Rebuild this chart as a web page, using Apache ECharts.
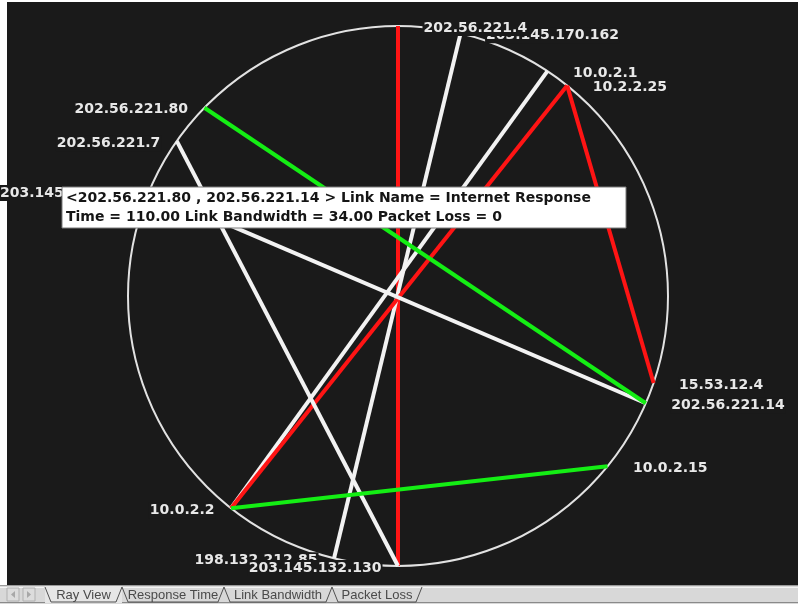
<!DOCTYPE html>
<html>
<head>
<meta charset="utf-8">
<script src="https://cdn.jsdelivr.net/npm/echarts@6/dist/echarts.min.js"></script>
<style>
html,body{margin:0;padding:0;background:#ffffff;}
#chart{width:798px;height:604px;}
</style>
</head>
<body>
<div id="chart"></div>
<script>
// Node names and their angular position on the ring (degrees, clockwise from top)
const nodeNames = ['203.145.170.162','202.56.221.4','10.0.2.1','10.2.2.25','15.53.12.4','202.56.221.14','10.0.2.15','198.132.212.85','203.145.132.130','10.0.2.2','203.145.132.132','202.56.221.7','202.56.221.80'];
const nodeAngles = [13.4, 0, 33.6, 38.8, 108.8, 113.4, 129.1, 193.7, 180, 218.2, 292.9, 305, 314.2];

// Links between nodes and their status
const linkSources = ['202.56.221.4','203.145.170.162','10.0.2.1','10.2.2.25','10.2.2.25','203.145.132.132','202.56.221.7','202.56.221.80','10.0.2.2'];
const linkTargets = ['203.145.132.130','198.132.212.85','10.0.2.2','10.0.2.2','15.53.12.4','202.56.221.14','203.145.132.130','202.56.221.14','10.0.2.15'];
const linkStatus  = ['bad','normal','normal','bad','bad','normal','normal','good','good'];

// Highlighted link info box
const infoLink = ['202.56.221.80','202.56.221.14'];
const infoName = 'Internet Response';
const infoValues = [110.00, 34.00, 0]; // Time, Link Bandwidth, Packet Loss

// Tabs
const tabNames = ['Ray View','Response Time','Link Bandwidth','Packet Loss'];

const statusColor = {bad:'#ff1414', normal:'#f2f2f2', good:'#14ee14'};

const nodes = nodeNames.map((n, i) => {
  const a = nodeAngles[i];
  const leftSide = a >= 180;
  return {
    name: n,
    value: [1, a],
    label: {
      position: leftSide ? 'left' : 'right',
      distance: leftSide ? 15 : 24
    }
  };
});

const links = linkSources.map((s, i) => ({
  source: s, target: linkTargets[i],
  lineStyle: {color: statusColor[linkStatus[i]], width: 4, opacity: 1}
}));

const infoText = '<' + infoLink[0] + ' , ' + infoLink[1] + ' > Link Name = ' + infoName + '\n' +
  'Time = ' + infoValues[0].toFixed(2) + ' Link Bandwidth = ' + infoValues[1].toFixed(2) + ' Packet Loss = ' + infoValues[2];

// Tab bar geometry
const tabX = [45, 122, 224, 332, 422];
const tabChildren = [];
tabChildren.push({type:'rect', shape:{x:0,y:585,width:798,height:19}, style:{fill:'#d8d8d8'}});
tabChildren.push({type:'line', shape:{x1:0,y1:585.5,x2:798,y2:585.5}, style:{stroke:'#9a9a9a',lineWidth:1}});
tabChildren.push({type:'line', shape:{x1:0,y1:587.5,x2:798,y2:587.5}, style:{stroke:'#f4f4f4',lineWidth:1}});
tabChildren.push({type:'line', shape:{x1:0,y1:602.5,x2:798,y2:602.5}, style:{stroke:'#8a8a8a',lineWidth:1}});
[[7,19],[23,35]].forEach((b, k) => {
  tabChildren.push({type:'rect', shape:{x:b[0],y:588,width:b[1]-b[0],height:13}, style:{fill:'#dcdcdc', stroke:'#b0b0b0', lineWidth:1}});
  const cx = (b[0]+b[1])/2;
  tabChildren.push({type:'polygon', shape:{points: k===0 ? [[cx+2,591],[cx+2,598],[cx-2,594.5]] : [[cx-2,591],[cx-2,598],[cx+2,594.5]]}, style:{fill:'#a8a8a8'}});
});
tabChildren.push({type:'rect', shape:{x:tabX[0],y:586,width:tabX[1]-tabX[0],height:17}, style:{fill:'#e6e6e6'}});
for (let i = 0; i < tabNames.length; i++) {
  const x0 = tabX[i], x1 = tabX[i+1];
  tabChildren.push({type:'polyline', shape:{points:[[x0,587],[x0+6,602],[x1-6,602],[x1,587]]}, style:{stroke:'#505050', lineWidth:1, fill:null}});
  tabChildren.push({type:'text', x:(x0+x1)/2, y:595, style:{text:tabNames[i], font:'13px "Liberation Sans", Arial, sans-serif', fill:'#4a4a4a', align:'center', verticalAlign:'middle'}});
}
tabChildren.forEach(c => { c.z = 100; });

const chart = echarts.init(document.getElementById('chart'), null, {renderer:'canvas'});
chart.setOption({
  animation: false,
  backgroundColor: '#ffffff',
  polar: {center: [398, 296], radius: 270},
  angleAxis: {
    type: 'value', min: 0, max: 360, startAngle: 90, clockwise: true,
    axisLine: {show: true, lineStyle: {color: '#e2e2e2', width: 2}},
    axisTick: {show: false}, axisLabel: {show: false}, splitLine: {show: false}
  },
  radiusAxis: {
    type: 'value', min: 0, max: 1,
    axisLine: {show: false}, axisTick: {show: false}, axisLabel: {show: false}, splitLine: {show: false}
  },
  graphic: [
    {type:'rect', z:-10, shape:{x:7,y:2,width:791,height:583}, style:{fill:'#1a1a1a'}},
    {type:'group', children: tabChildren},
    {type:'rect', z:200, zlevel:1, shape:{x:62,y:187,width:564,height:41}, style:{fill:'#ffffff', stroke:'#7a7a7a', lineWidth:1}},
    {type:'text', z:201, zlevel:1, x:66, y:189, style:{text: infoText, font:'bold 14px "DejaVu Sans", sans-serif', lineHeight:19, fill:'#151515'}}
  ],
  series: [{
    type: 'graph',
    coordinateSystem: 'polar',
    layout: 'none',
    symbol: 'circle',
    symbolSize: 1,
    itemStyle: {color: 'rgba(0,0,0,0)'},
    label: {
      show: true,
      color: '#e8e8e8',
      fontFamily: 'DejaVu Sans',
      fontWeight: 'bold',
      fontSize: 14,
      backgroundColor: '#1a1a1a',
      padding: [1, 1],
      offset: [0, 2]
    },
    emphasis: {disabled: true},
    data: nodes,
    links: links
  }]
});
</script>
</body>
</html>
